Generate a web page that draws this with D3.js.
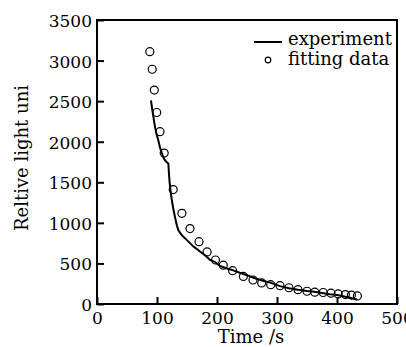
<!DOCTYPE html>
<html>
<head>
<meta charset="utf-8">
<script src="https://cdn.jsdelivr.net/npm/d3@7"></script>
<style>
  html, body { margin: 0; padding: 0; background: #fff; }
  svg text { font-family: "DejaVu Serif", "Liberation Serif", serif; fill: #000; }
</style>
</head>
<body>
<div id="chart"></div>
<script>
// measured curve (time s, relative light units)
const expTime = [90, 92, 93.5, 96.5, 99, 102, 105, 108, 111, 113.5, 116, 119, 120, 121, 122.5, 124.5, 127, 130, 133, 135.5,
  141, 149.5, 155, 160.5, 166, 172, 180, 188, 196, 205, 215, 227, 238, 250, 262, 275, 290, 305, 320, 335,
  350, 362, 375, 388, 400, 410, 420, 428, 433];
const expValue = [2510, 2400, 2330, 2190, 2100, 2020, 1930, 1860, 1800, 1770, 1750, 1730, 1600, 1500, 1400, 1290, 1180, 1070, 970, 910,
  850, 790, 750, 710, 680, 645, 600, 545, 520, 470, 440, 415, 385, 355, 320, 290, 260, 220, 195, 175,
  160, 150, 135, 120, 110, 95, 80, 65, 55];

// fitted points
const fitTime = [88, 92, 95.5, 99.5, 105, 112, 127, 141.5, 155, 170, 183.5, 197.5, 210.5, 226, 244, 260, 274.5, 289.5, 305, 320,
  335, 350, 363, 377, 390, 402, 414, 424, 434];
const fitValue = [3110, 2893, 2637, 2360, 2124, 1860, 1410, 1118, 930, 768, 642, 542, 478, 411, 340, 296, 260, 238, 226, 200,
  177, 157, 146, 142, 133, 124, 116, 110, 100];

const xTicks = [0, 100, 200, 300, 400, 500];
const yTicks = [0, 500, 1000, 1500, 2000, 2500, 3000, 3500];
const legendLabels = ["experiment", "fitting data"];

const W = 406, H = 347;
const margin = { top: 20, right: 9, bottom: 43, left: 97 },
      width = W - margin.left - margin.right,
      height = H - margin.top - margin.bottom;

const svg = d3.select("#chart").append("svg")
    .attr("width", W)
    .attr("height", H)
  .append("g")
    .attr("transform", "translate(" + margin.left + "," + margin.top + ")");

const x = d3.scaleLinear().domain([0, 500]).range([0, width]);
const y = d3.scaleLinear().domain([0, 3500]).range([height, 0]);

// frame
svg.append("rect")
    .attr("x", 0).attr("y", 0)
    .attr("width", width).attr("height", height)
    .attr("fill", "none")
    .attr("stroke", "#000")
    .attr("stroke-width", 2);

// axes with inward ticks
const xAxis = svg.append("g")
    .attr("transform", "translate(0," + height + ")")
    .call(d3.axisBottom(x).tickValues(xTicks).tickFormat(d => d).tickSizeInner(-7).tickSizeOuter(0).tickPadding(8));
xAxis.select(".domain").remove();
xAxis.selectAll("line").attr("stroke-width", 2);
xAxis.selectAll("text").style("font-size", "17px");

const yAxis = svg.append("g")
    .call(d3.axisLeft(y).tickValues(yTicks).tickFormat(d => d).tickSizeInner(-7).tickSizeOuter(0).tickPadding(5));
yAxis.select(".domain").remove();
yAxis.selectAll("line").attr("stroke-width", 2);
yAxis.selectAll("text").style("font-size", "17px").attr("dy", "0.38em");

// experiment line
const expData = expTime.map((t, i) => ({ t: t, v: expValue[i] }));
svg.append("path")
    .datum(expData)
    .attr("fill", "none")
    .attr("stroke", "#000")
    .attr("stroke-width", 2)
    .attr("stroke-linejoin", "round")
    .attr("d", d3.line().x(d => x(d.t)).y(d => y(d.v)));

// fitting circles
const fitData = fitTime.map((t, i) => ({ t: t, v: fitValue[i] }));
svg.selectAll(".fit")
  .data(fitData)
  .enter().append("circle")
    .attr("class", "fit")
    .attr("cx", d => x(d.t))
    .attr("cy", d => y(d.v))
    .attr("r", 4)
    .attr("fill", "none")
    .attr("stroke", "#000")
    .attr("stroke-width", 1.2);

// legend
const legend = svg.append("g").attr("transform", "translate(" + (254 - margin.left) + "," + (42 - margin.top) + ")");
legend.append("line")
    .attr("x1", 0).attr("x2", 28).attr("y1", 0).attr("y2", 0)
    .attr("stroke", "#000").attr("stroke-width", 2);
legend.append("circle")
    .attr("cx", 14).attr("cy", 18).attr("r", 2.8)
    .attr("fill", "none").attr("stroke", "#000").attr("stroke-width", 1.2);
legend.selectAll(".lg")
  .data(legendLabels)
  .enter().append("text")
    .attr("class", "lg")
    .attr("x", 34)
    .attr("y", (d, i) => 3 + i * 20)
    .style("font-size", "18px")
    .text(d => d);

// X axis label
svg.append("text")
    .attr("x", 251 - margin.left)
    .attr("y", 343 - margin.top)
    .style("text-anchor", "middle")
    .style("font-size", "18px")
    .text("Time /s");

// Y axis label
svg.append("text")
    .attr("transform", "rotate(-90)")
    .attr("x", -(158 - margin.top))
    .attr("y", 28 - margin.left)
    .style("text-anchor", "middle")
    .style("font-size", "18px")
    .text("Reltive light uni");
</script>
</body>
</html>
